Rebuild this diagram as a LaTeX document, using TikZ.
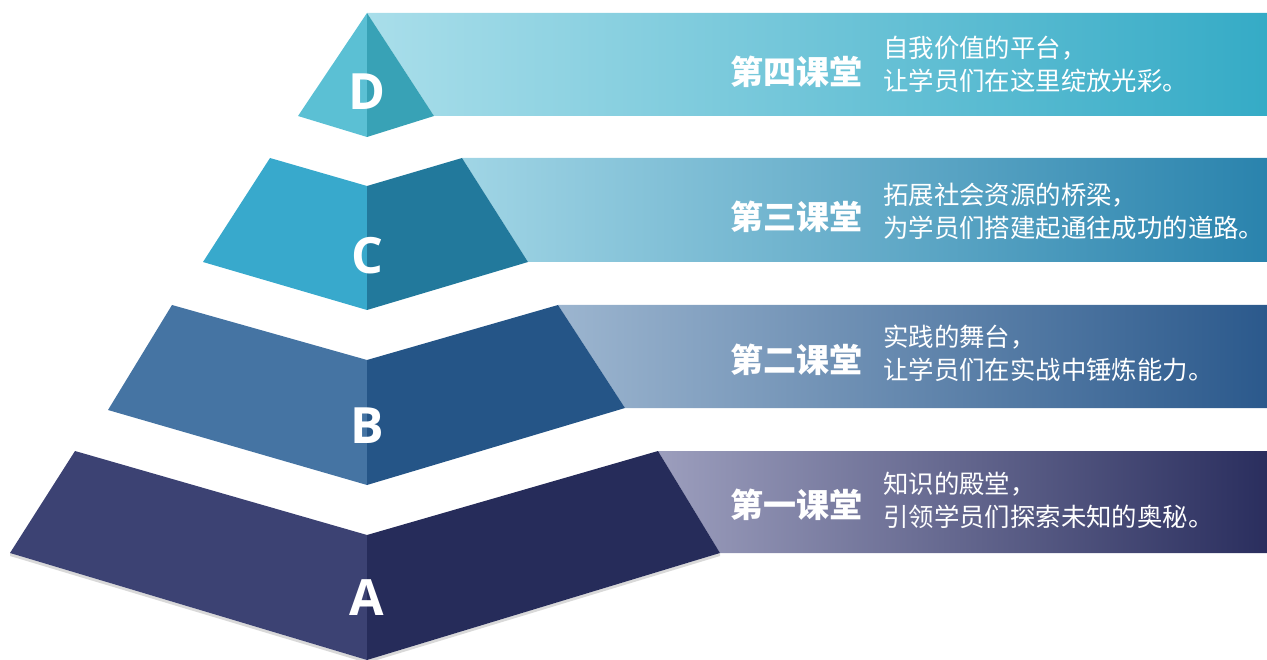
\documentclass[tikz,border=0pt]{standalone}
\usepackage{fontspec}
\newfontfamily\cjk{Noto Sans CJK SC}
\newfontfamily\tierfont{Open Sans}
\definecolor{Dleft}{HTML}{5BC0D4}
\definecolor{Dright}{HTML}{38A2B6}
\definecolor{Dlight}{HTML}{A9DEEA}
\definecolor{Ddark}{HTML}{35ABC6}
\definecolor{Cleft}{HTML}{38A9CC}
\definecolor{Cright}{HTML}{22799C}
\definecolor{Clight}{HTML}{A0D5E5}
\definecolor{Cdark}{HTML}{2A83AD}
\definecolor{Bleft}{HTML}{4574A3}
\definecolor{Bright}{HTML}{255587}
\definecolor{Blight}{HTML}{9CB5CF}
\definecolor{Bdark}{HTML}{2B598C}
\definecolor{Aleft}{HTML}{3C4273}
\definecolor{Aright}{HTML}{262C5A}
\definecolor{Alight}{HTML}{9C9EBD}
\definecolor{Adark}{HTML}{2A2E5E}

\begin{document}
\begin{tikzpicture}[x=1pt,y=-1pt,
  tier/.style={font=\tierfont\bfseries\fontsize{50}{50}\selectfont,text=white,inner sep=0pt},
  title/.style={font=\cjk\bfseries\fontsize{33}{33}\selectfont,text=white,anchor=west,inner sep=0pt},
  note/.style={font=\cjk\fontsize{25.4}{33}\selectfont,text=white,anchor=west,align=left,inner sep=0pt}]
\useasboundingbox (0,0) rectangle (1267,660);

% bands behind the pyramid
\shade[left color=Dlight,right color=Ddark] (367,13) -- (1267,13) -- (1267,116) -- (434,116) -- cycle;
\shade[left color=Clight,right color=Cdark] (462,158) -- (1267,158) -- (1267,262) -- (528,262) -- cycle;
\shade[left color=Blight,right color=Bdark] (558,305) -- (1267,305) -- (1267,408) -- (625,408) -- cycle;
\shade[left color=Alight,right color=Adark] (658,451) -- (1267,451) -- (1267,553) -- (720,553) -- cycle;

% pyramid
\fill[Dleft] (367,13) -- (298,116) -- (367,137) -- cycle;
\fill[Dright] (367,13) -- (434,116) -- (367,137) -- cycle;
\fill[Cleft] (270,158) -- (367,186) -- (367,310) -- (203,262) -- cycle;
\fill[Cright] (462,158) -- (367,186) -- (367,310) -- (528,262) -- cycle;
\fill[Bleft] (172,305) -- (367,360) -- (367,485) -- (108,410) -- cycle;
\fill[Bright] (558,305) -- (367,360) -- (367,485) -- (625,408) -- cycle;
\fill[black,opacity=.15] (10,556) -- (367,663) -- (720,556) -- (720,553) -- (367,660) -- (10,553) -- cycle;
\fill[Aleft] (75,451) -- (367,535) -- (367,660) -- (10,553) -- cycle;
\fill[Aright] (658,451) -- (367,535) -- (367,660) -- (720,553) -- cycle;

\node[tier] (tierD) at (367,92) {D};
\node[tier] (tierC) at (367,256) {C};
\node[tier] (tierB) at (367,426) {B};
\node[tier] (tierA) at (367,598) {A};

% texts
\node[title] (titleD) at (730,72) {第四课堂};
\node[note] (noteD) at (883,64) {自我价值的平台，\\让学员们在这里绽放光彩。};
\node[title] (titleC) at (730,217) {第三课堂};
\node[note] (noteC) at (883,211) {拓展社会资源的桥梁，\\为学员们搭建起通往成功的道路。};
\node[title] (titleB) at (730,360) {第二课堂};
\node[note] (noteB) at (883,353) {实践的舞台，\\让学员们在实战中锤炼能力。};
\node[title] (titleA) at (730,505) {第一课堂};
\node[note] (noteA) at (883,500) {知识的殿堂，\\引领学员们探索未知的奥秘。};
\end{tikzpicture}
\end{document}
